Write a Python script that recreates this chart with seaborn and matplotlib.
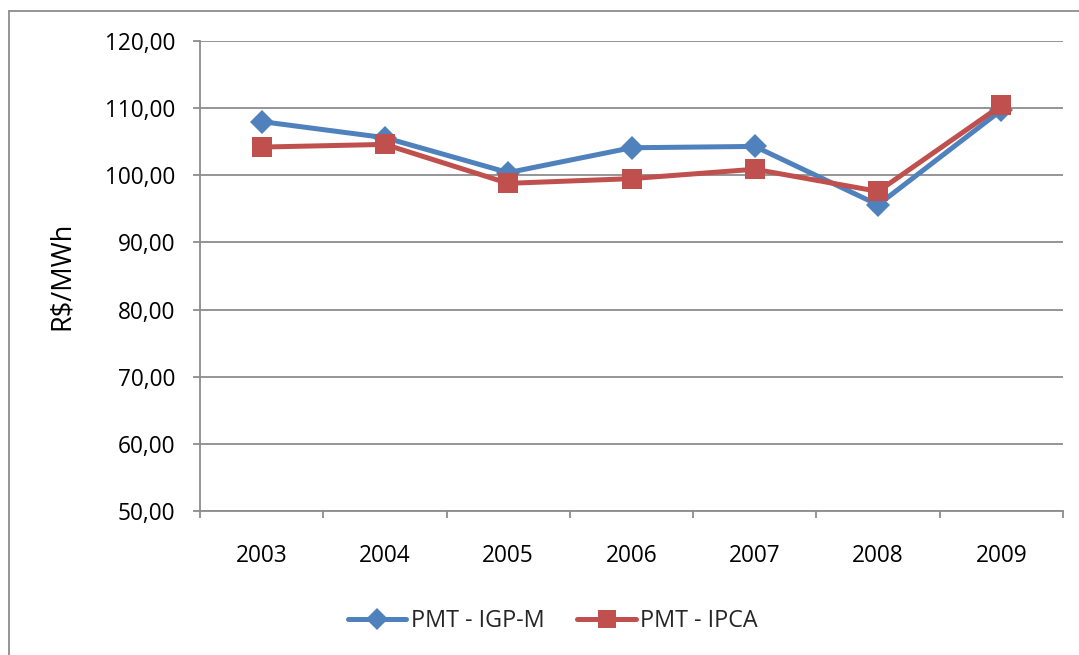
import matplotlib
matplotlib.use("Agg")
import matplotlib.pyplot as plt
from matplotlib.lines import Line2D
from matplotlib.ticker import FixedLocator, FuncFormatter
import seaborn as sns
import pandas as pd

years = [2003, 2004, 2005, 2006, 2007, 2008, 2009]
pmt_igpm = [108.0, 105.6, 100.4, 104.1, 104.3, 95.6, 109.7]
pmt_ipca = [104.2, 104.6, 98.8, 99.5, 100.9, 97.6, 110.4]
series_names = ["PMT - IGP-M", "PMT - IPCA"]
colors = ["#4F81BD", "#C0504D"]
y_label = "R$/MWh"

df = pd.DataFrame({
    "ano": years * 2,
    "valor": pmt_igpm + pmt_ipca,
    "serie": [series_names[0]] * len(years) + [series_names[1]] * len(years),
})

sns.set_theme(style="white")
plt.rcParams["font.family"] = ["Open Sans", "DejaVu Sans"]

W, H = 1079, 655
FS = 16.3
GRID = "#8C8C8C"
fig = plt.figure(figsize=(W / 100, H / 100), dpi=100)
ax = fig.add_axes([200 / W, 1 - 511 / H, (1063 - 200) / W, (511 - 41) / H])

sns.lineplot(
    data=df, x="ano", y="valor", hue="serie", style="serie",
    palette=colors, markers={series_names[0]: "D", series_names[1]: "s"},
    dashes=False, linewidth=3.6, markersize=12, markeredgewidth=0,
    legend=False, ax=ax,
)
# square markers are a bit larger than diamonds
for ln, ms in zip(ax.get_lines(), [12, 14]):
    ln.set_markersize(ms)

ax.set_xlim(years[0] - 0.5, years[-1] + 0.5)
ax.set_ylim(50, 120)
ax.yaxis.set_major_locator(FixedLocator(list(range(50, 121, 10))))
ax.yaxis.set_major_formatter(FuncFormatter(lambda v, p: f"{v:.2f}".replace(".", ",")))
ax.set_xticks(years)
ax.set_xticklabels([str(y) for y in years])
ax.xaxis.set_minor_locator(FixedLocator([y - 0.5 for y in years] + [years[-1] + 0.5]))

ax.grid(axis="y", color=GRID, linewidth=1.3)
ax.grid(axis="x", visible=False)
ax.set_axisbelow(True)
for s in ["top", "right"]:
    ax.spines[s].set_visible(False)
for s in ["left", "bottom"]:
    ax.spines[s].set_color(GRID)
    ax.spines[s].set_linewidth(1.3)

ax.tick_params(axis="y", which="major", direction="out", length=5, width=1.3,
               color=GRID, left=True, labelsize=FS, labelcolor="black", pad=13)
ax.tick_params(axis="x", which="major", length=0, labelsize=FS, labelcolor="black", pad=24)
ax.tick_params(axis="x", which="minor", direction="out", length=5, width=1.3,
               color=GRID, bottom=True)

ax.set_xlabel("")
ax.set_ylabel("")
fig.text(62 / W, 1 - 276 / H, y_label, rotation=90, ha="center", va="center",
         fontsize=19.5, color="black")

handles = [
    Line2D([], [], color=colors[0], marker="D", linewidth=3.6, markersize=11, markeredgewidth=0),
    Line2D([], [], color=colors[1], marker="s", linewidth=3.6, markersize=13, markeredgewidth=0),
]
fig.legend(handles, series_names, loc="center", bbox_to_anchor=(553 / W, 1 - 621 / H),
           ncol=2, frameon=False, fontsize=16.8, handlelength=2.5, handletextpad=0.2,
           columnspacing=1.4)

# chart area border
fig.add_artist(Line2D([9 / W, 9 / W], [0, 1 - 11 / H], transform=fig.transFigure,
                      color=GRID, linewidth=1.3))
fig.add_artist(Line2D([9 / W, 1], [1 - 11 / H, 1 - 11 / H], transform=fig.transFigure,
                      color=GRID, linewidth=1.3))

fig.savefig("out.png", dpi=100, facecolor="white")
